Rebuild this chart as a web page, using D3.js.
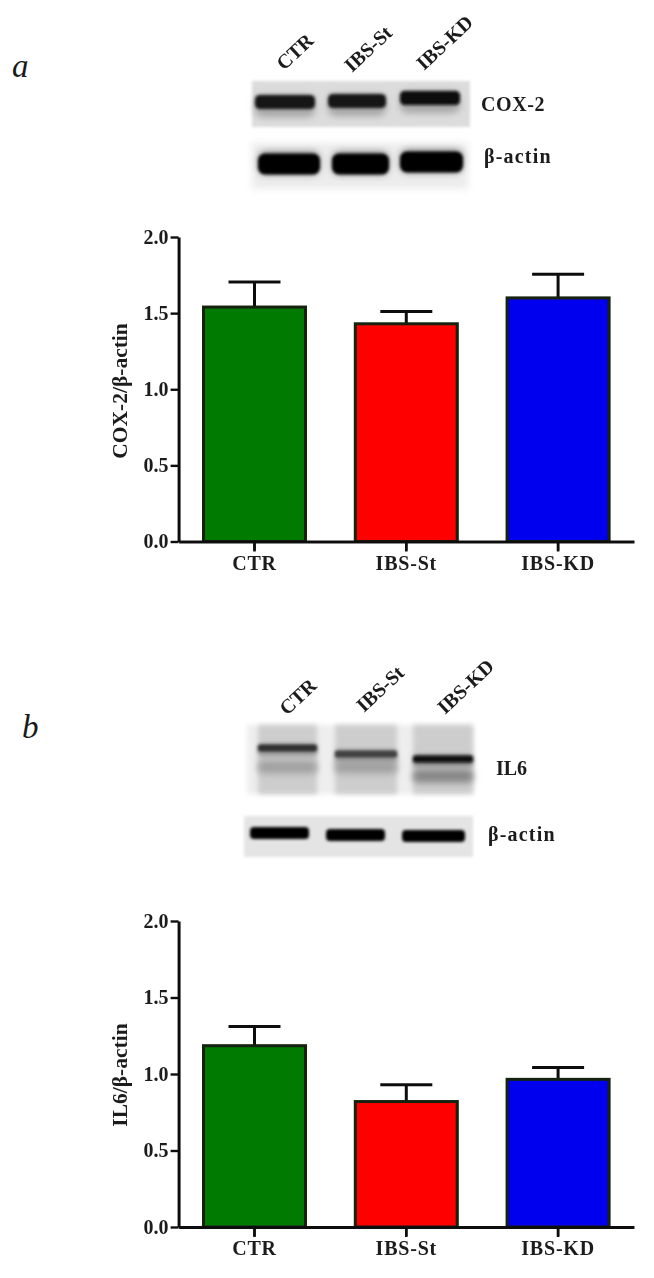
<!DOCTYPE html>
<html><head><meta charset="utf-8">
<script src="https://cdn.jsdelivr.net/npm/d3@7"></script>
<style>html,body{margin:0;padding:0;background:#fff}svg{display:block}text{font-family:"Liberation Serif",serif;font-weight:700;fill:#1a1a1a}</style>
</head><body><div id="c"></div>
<script>
const categories = ["CTR", "IBS-St", "IBS-KD"];
const barColors = ["#007a00", "#ff0000", "#0000ee"];
const tickValues = [0, 0.5, 1, 1.5, 2];
const cox2Values = [1.54, 1.43, 1.60];
const cox2Upper = [1.705, 1.51, 1.755];
const il6Values = [1.185, 0.82, 0.965];
const il6Upper = [1.31, 0.93, 1.043];
// blot band darkness per lane, 0..1
const cox2Bands = [0.92, 0.92, 0.97];
const actinABands = [1, 1, 1];
const il6Bands = [0.8, 0.72, 0.95];
const il6Faint = [0.3, 0.3, 0.42];
const actinBBands = [1, 1, 1];

const W = 654, H = 1278;
const svg = d3.select("#c").append("svg").attr("width", W).attr("height", H).attr("viewBox", `0 0 ${W} ${H}`);
const defs = svg.append("defs");
[["soft",0.6],["b1",1.8],["b2",2.4],["b3",3.5]].forEach(([id,s])=>{
  defs.append("filter").attr("id",id).attr("x","-30%").attr("y","-80%").attr("width","160%").attr("height","260%")
    .append("feGaussianBlur").attr("stdDeviation",s);
});
const dark = d3.scaleLinear().domain([0,1]).range(["#e6e6e6","#000000"]);

function panel(top, bottom, yTitle, titleY, values, upper) {
  const x = d3.scaleBand().domain(categories).range([178.6, 634]).paddingInner(0.328).paddingOuter(0.164);
  const y = d3.scaleLinear().domain([0, 2]).range([bottom, top]);
  const cx = d => x(d) + x.bandwidth() / 2;
  const g = svg.append("g").attr("filter","url(#soft)");
  g.selectAll("line.err").data(categories).join("line").attr("class","err")
    .attr("x1", cx).attr("x2", cx)
    .attr("y1",(d,i)=>y(values[i])).attr("y2",(d,i)=>y(upper[i]))
    .attr("stroke","#111").attr("stroke-width",3);
  g.selectAll("line.cap").data(categories).join("line").attr("class","cap")
    .attr("x1", d=>cx(d)-26).attr("x2", d=>cx(d)+26)
    .attr("y1",(d,i)=>y(upper[i])).attr("y2",(d,i)=>y(upper[i]))
    .attr("stroke","#111").attr("stroke-width",3);
  g.selectAll("rect.bar").data(categories).join("rect").attr("class","bar")
    .attr("x", d=>x(d)).attr("width", x.bandwidth())
    .attr("y",(d,i)=>y(values[i])).attr("height",(d,i)=>bottom-y(values[i]))
    .attr("fill",(d,i)=>barColors[i]).attr("stroke","#14210f").attr("stroke-width",3);
  const ay = g.append("g").attr("transform","translate(178.6,0)")
    .call(d3.axisLeft(y).tickValues(tickValues).tickFormat(d3.format(".1f")).tickSize(8).tickSizeOuter(0).tickPadding(2));
  const ax = g.append("g").attr("transform",`translate(0,${bottom})`)
    .call(d3.axisBottom(x).tickSize(9).tickSizeOuter(0).tickPadding(5));
  [ay,ax].forEach(a=>{
    a.selectAll("path").attr("stroke","#111").attr("stroke-width",3);
    a.selectAll("line").attr("stroke","#111").attr("stroke-width",2.4);
  });
  // bottom ticks, drawn over the axis line
  g.selectAll("line.xtick").data(categories).join("line").attr("class","xtick")
    .attr("x1", cx).attr("x2", cx).attr("y1", bottom).attr("y2", bottom + 10)
    .attr("stroke","#111").attr("stroke-width",2.6);
  ay.selectAll("text").style("font-family",'"Liberation Serif",serif').style("font-size","20px").style("font-weight",700).attr("fill","#1a1a1a");
  ax.selectAll("text").style("font-family",'"Liberation Serif",serif').style("font-size","20px").style("font-weight",700).attr("fill","#1a1a1a").style("letter-spacing","0.8px");
  g.append("text").attr("transform",`translate(127,${titleY}) rotate(-90)`).attr("text-anchor","middle")
    .style("font-size","21.5px").text(yTitle);
}

function blotBg(x,y,w,h,shade,blur){
  svg.append("rect").attr("x",x).attr("y",y).attr("width",w).attr("height",h).attr("fill",shade).attr("filter",`url(#${blur})`);
}
function lanes(xs, ys, h, vals, blur){
  const g = svg.append("g").attr("filter",`url(#${blur})`);
  g.selectAll("rect").data(vals).join("rect")
    .attr("x",(d,i)=>xs[i][0]).attr("width",(d,i)=>xs[i][1]-xs[i][0])
    .attr("y",(d,i)=>ys[i]-h/2).attr("height",h).attr("rx",h/3)
    .attr("fill",d=>dark(d));
}
function rotLabels(pts){
  const g = svg.append("g").attr("filter","url(#soft)");
  g.selectAll("text").data(categories).join("text")
    .attr("transform",(d,i)=>`translate(${pts[i][0]},${pts[i][1]}) rotate(-43)`)
    .style("font-size","20px").text(d=>d);
}
function label(x,y,t,spacing=0.6){
  svg.append("text").attr("x",x).attr("y",y).attr("filter","url(#soft)").style("font-size","20px").style("letter-spacing",spacing+"px").text(t);
}

// Panel a
svg.append("text").attr("x",12).attr("y",77).style("font-size","33px").style("font-style","italic").style("font-weight",400).text("a");
rotLabels([[284,71],[352,73],[424,71]]);
blotBg(252,81,218,46,"#dcdcdc","b1");
lanes([[255,315],[328,386],[400,460]],[106,105,102],22,[0.28,0.28,0.28],"b3");
lanes([[255,315],[328,386],[400,460]],[102,101,98],14,cox2Bands,"b1");
blotBg(252,143,216,46,"#ececec","b3");
lanes([[258,320],[332,389],[400,463]],[163,163,161],24,[0.35,0.35,0.35],"b3");
lanes([[258,320],[332,389],[400,463]],[164,164,162],21,actinABands,"b1");
label(481,111,"COX-2");
label(484,163,"β-actin",1.2);

// Panel b
svg.append("text").attr("x",22).attr("y",738).style("font-size","33px").style("font-style","italic").style("font-weight",400).text("b");
rotLabels([[287,716],[364,713],[445,715]]);
const topLanes=[[258,317],[335,397],[413,473]];
blotBg(247,725,226,69,"#eeeeee","b2");
topLanes.forEach(l=>blotBg(l[0],725,l[1]-l[0],69,"#cdcdcd","b2"));
lanes(topLanes,[767,767,776],13,il6Faint,"b3");
lanes(topLanes,[750,756,761],12,[0.35,0.35,0.4],"b2");
lanes(topLanes,[748,754,759],7,il6Bands,"b1");
label(496,775,"IL6",0);
blotBg(244,816,229,41,"#e4e4e4","b1");
lanes([[250,309],[326,385],[402,465]],[833,835,836],12,actinBBands,"b1");
label(488,841,"β-actin",1.2);

panel(237, 541.5, "COX-2/β-actin", 391, cox2Values, cox2Upper);
panel(921, 1227, "IL6/β-actin", 1075, il6Values, il6Upper);
</script></body></html>
